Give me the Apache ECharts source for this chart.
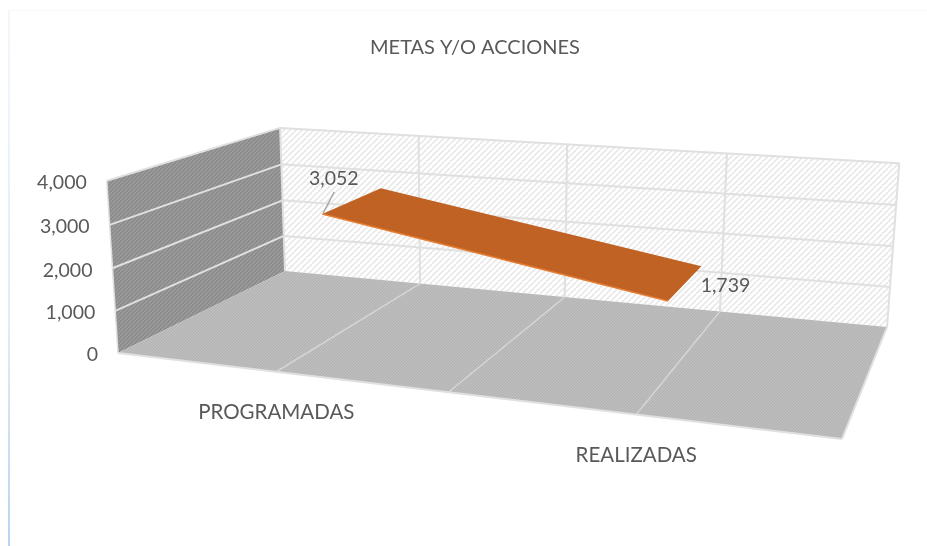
<!DOCTYPE html>
<html lang="es">

<head>
  <meta charset="utf-8">
  <title>METAS Y/O ACCIONES</title>
  <style>
    html, body { margin: 0; background: #fff; }
  </style>
</head>

<body>
  <div id="myCharts" style="width: 927px;height:546px;"></div>
  <script src="https://cdn.jsdelivr.net/npm/echarts@6/dist/echarts.min.js"></script>
  <script type="text/javascript">
    // datos
    var categories = ['PROGRAMADAS', 'REALIZADAS'];
    var seriesValues = [3052, 1739];
    var valueTicks = [0, 1000, 2000, 3000, 4000];
    var chartTitle = 'METAS Y/O ACCIONES';

    // esquinas de la caja 3D en la pantalla
    var floorFL = [118, 353], floorFR = [842, 439], floorBR = [887, 327], floorBL = [285, 271];
    var topFL = [106, 181], topBL = [281, 127], topBR = [899, 164];
    // profundidad de la cinta dentro de la caja
    var ribbonFront = 0.3, ribbonBack = 0.7;
    var textFont = 'Lato, "Open Sans", sans-serif';

    // homografia del piso (cuadrado unitario -> cuadrilatero)
    var dx1 = floorFR[0] - floorBR[0], dx2 = floorBL[0] - floorBR[0];
    var dy1 = floorFR[1] - floorBR[1], dy2 = floorBL[1] - floorBR[1];
    var sx = floorFL[0] - floorFR[0] + floorBR[0] - floorBL[0];
    var sy = floorFL[1] - floorFR[1] + floorBR[1] - floorBL[1];
    var den = dx1 * dy2 - dx2 * dy1;
    var g = (sx * dy2 - dx2 * sy) / den, h = (dx1 * sy - sx * dy1) / den;
    var a = floorFR[0] - floorFL[0] + g * floorFR[0], b = floorBL[0] - floorFL[0] + h * floorBL[0], c = floorFL[0];
    var d = floorFR[1] - floorFL[1] + g * floorFR[1], e = floorBL[1] - floorFL[1] + h * floorBL[1], f = floorFL[1];

    // columna vertical de la proyeccion, minimos cuadrados sobre las esquinas altas
    var tops = [[0, 0, topFL], [0, 1, topBL], [1, 1, topBR]];
    var mu = 0, mv = 0;
    tops.forEach(function (t) { mu += t[2][0] / 3; mv += t[2][1] / 3; });
    var num = 0, dn = 0, bus = [], bvs = [];
    tops.forEach(function (t) {
      var w0 = g * t[0] + h * t[1] + 1;
      var bu = t[2][0] * w0 - (a * t[0] + b * t[1] + c);
      var bv = t[2][1] * w0 - (d * t[0] + e * t[1] + f);
      bus.push(bu); bvs.push(bv);
      num += (t[2][0] - mu) * bu + (t[2][1] - mv) * bv;
      dn += (t[2][0] - mu) * t[2][0] + (t[2][1] - mv) * t[2][1];
    });
    var vt = -num / dn;
    var vq = 0, vr = 0;
    tops.forEach(function (t, i) {
      vq += (t[2][0] * vt + bus[i]) / 3;
      vr += (t[2][1] * vt + bvs[i]) / 3;
    });

    // x: 0..1 a lo ancho, y: 0..1 en altura, z: 0 frente, 1 fondo
    function project(x, y, z) {
      var w = g * x + h * z + vt * y + 1;
      return [(a * x + b * z + c + vq * y) / w, (d * x + e * z + f + vr * y) / w];
    }

    // pasa un dato por los ejes de ECharts y lo deja en 0..1 dentro del grid
    function toUnit(params, api, name, value) {
      var cs = params.coordSys;
      var p = api.coord([name, value]);
      return { x: (p[0] - cs.x) / cs.width, y: (cs.y + cs.height - p[1]) / cs.height };
    }

    // texturas de las paredes
    function hatch(size, bg, fg, lineW) {
      var cv = document.createElement('canvas');
      cv.width = cv.height = size;
      var ctx = cv.getContext('2d');
      ctx.fillStyle = bg;
      ctx.fillRect(0, 0, size, size);
      ctx.strokeStyle = fg;
      ctx.lineWidth = lineW;
      for (var i = -size; i <= size; i += size) {
        ctx.beginPath();
        ctx.moveTo(i, size);
        ctx.lineTo(i + size, 0);
        ctx.stroke();
      }
      return { image: cv, repeat: 'repeat' };
    }
    var backFill = hatch(6, '#ffffff', '#e9e9e9', 1.8);
    var leftFill = hatch(4, '#8b8b8b', '#a0a0a0', 1.2);
    var floorFill = hatch(3, '#b6b6b6', '#c0c0c0', 1);

    function poly(points, fill) {
      return { type: 'polygon', shape: { points: points }, style: { fill: fill } };
    }
    function line(p1, p2, width, color) {
      return {
        type: 'line',
        shape: { x1: p1[0], y1: p1[1], x2: p2[0], y2: p2[1] },
        style: { stroke: color || '#e0e0e0', lineWidth: width || 2 }
      };
    }
    function label(text, x, y, size, align) {
      return {
        type: 'text',
        style: { x: x, y: y, text: text, fill: '#595959', font: size + 'px ' + textFont, align: align || 'center', verticalAlign: 'middle' }
      };
    }
    function fmt(v) { return v.toLocaleString('en-US'); }

    function renderRoom(params, api) {
      var kids = [];
      kids.push(poly([project(0, 0, 1), project(1, 0, 1), project(1, 1, 1), project(0, 1, 1)], backFill));
      kids.push(poly([project(0, 0, 0), project(0, 0, 1), project(0, 1, 1), project(0, 1, 0)], leftFill));
      kids.push(poly([project(0, 0, 0), project(1, 0, 0), project(1, 0, 1), project(0, 0, 1)], floorFill));
      valueTicks.forEach(function (t) {
        var y = toUnit(params, api, categories[0], t).y;
        if (t > 0) {
          kids.push(line(project(0, y, 0), project(0, y, 1)));
          kids.push(line(project(0, y, 1), project(1, y, 1)));
        }
        // las etiquetas siguen el borde inclinado de la pared
        var q = project(0, y, 0);
        kids.push(label(fmt(t), q[0] - 20, q[1] + 2, 19.5, 'right'));
      });
      [0, 0.25, 0.5, 0.75, 1].forEach(function (x) {
        kids.push(line(project(x, 0, 1), project(x, 1, 1)));
        if (x > 0) {
          kids.push(line(project(x, 0, 0), project(x, 0, 1), x < 1 ? 1.6 : 2, x < 1 ? '#d4d4d4' : '#e0e0e0'));
        }
      });
      kids.push(line(project(0, 0, 0), project(1, 0, 0)));
      kids.push(line(project(0, 0, 0), project(0, 1, 0), 1.5));
      return { type: 'group', children: kids };
    }

    function renderRibbon(params, api) {
      var pts = categories.map(function (name, i) {
        return toUnit(params, api, name, seriesValues[i]);
      });
      var f0 = project(pts[0].x, pts[0].y, ribbonFront), b0 = project(pts[0].x, pts[0].y, ribbonBack);
      var f1 = project(pts[1].x, pts[1].y, ribbonFront), b1 = project(pts[1].x, pts[1].y, ribbonBack);
      var m0 = project(pts[0].x, pts[0].y, 0.5), m1 = project(pts[1].x, pts[1].y, 0.5);
      var kids = [
        poly([f0, b0, b1, f1], '#bf6224'),
        line(f0, f1, 1.5, '#e57d33'),
        line([f0[0] + 1, f0[1] - 1], [f0[0] + 12, f0[1] - 22], 1.4, '#a6a6a6'),
        label(fmt(seriesValues[0]), m0[0] - 19, m0[1] - 22, 19.5),
        label(fmt(seriesValues[1]), m1[0] + 40, m1[1] + 3, 19.5)
      ];
      // etiquetas de categoria bajo el borde frontal del piso
      pts.forEach(function (p, i) {
        var q = project(p.x, 0, 0);
        kids.push(label(categories[i], q[0], q[1] + 41, 20.5));
      });
      return { type: 'group', children: kids };
    }

    var myChart = echarts.init(document.getElementById('myCharts'));
    var chartOption = {
      backgroundColor: '#ffffff',
      animation: false,
      title: {
        text: chartTitle,
        left: 470,
        top: 33,
        textAlign: 'center',
        textStyle: { color: '#595959', fontFamily: textFont, fontWeight: 'normal', fontSize: 20 }
      },
      // marco claro de la imagen original
      graphic: [
        {
          type: 'rect',
          shape: { x: 8, y: 10, width: 2, height: 536 },
          style: {
            fill: new echarts.graphic.LinearGradient(0, 0, 0, 1, [
              { offset: 0, color: '#f3f7fc' },
              { offset: 0.6, color: '#dfebf8' },
              { offset: 1, color: '#b8d4f0' }
            ])
          }
        },
        { type: 'rect', shape: { x: 8, y: 10, width: 919, height: 1 }, style: { fill: '#f8f8f8' } }
      ],
      grid: { left: 113, right: 27, top: 182, bottom: 192 },
      xAxis: {
        type: 'category',
        data: categories,
        axisLine: { show: false },
        axisTick: { show: false },
        axisLabel: { show: false },
        splitLine: { show: false }
      },
      yAxis: {
        type: 'value',
        min: valueTicks[0],
        max: valueTicks[valueTicks.length - 1],
        interval: 1000,
        axisLine: { show: false },
        axisTick: { show: false },
        splitLine: { show: false },
        axisLabel: { show: false }
      },
      series: [
        { type: 'custom', name: 'caja', silent: true, clip: false, z: 1, renderItem: renderRoom, data: [[0, 0]] },
        { type: 'custom', name: 'METAS Y/O ACCIONES', clip: false, z: 2, renderItem: renderRibbon, data: [[0, seriesValues[0]]] }
      ]
    };
    myChart.setOption(chartOption);
  </script>
</body>

</html>
